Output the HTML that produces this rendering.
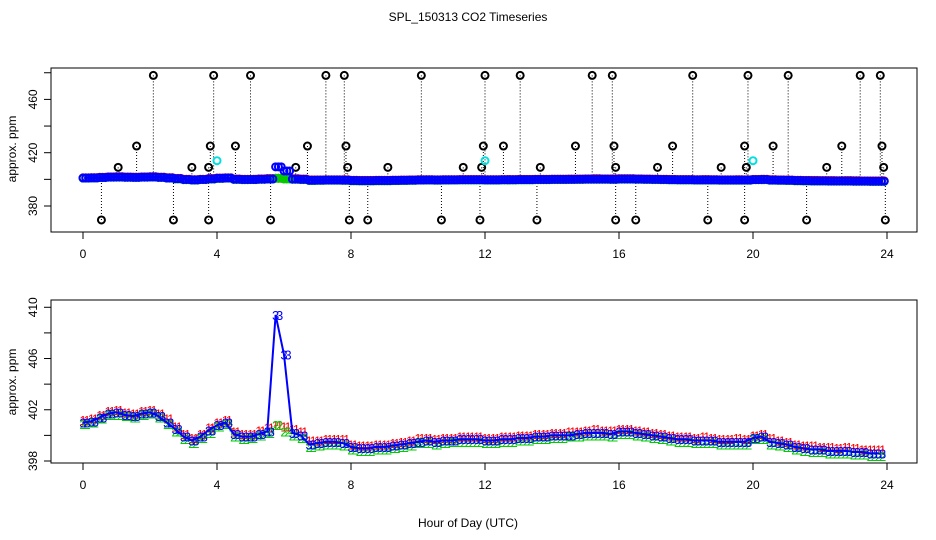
<!DOCTYPE html>
<html><head><meta charset="utf-8"><style>
body{margin:0;background:#fff}
svg{display:block;font-family:"Liberation Sans",sans-serif}
</style></head><body>
<svg id="c" width="936" height="540">
<text x="468" y="21" font-size="12" text-anchor="middle">SPL_150313  CO2 Timeseries</text>
<text x="468" y="527" font-size="12" text-anchor="middle">Hour of Day (UTC)</text>
<text transform="translate(16,149) rotate(-90)" font-size="12" text-anchor="middle">approx. ppm</text>
<text transform="translate(16,382) rotate(-90)" font-size="12" text-anchor="middle">approx. ppm</text>
<rect x="51" y="68" width="866" height="164" fill="none" stroke="#000"/>
<rect x="51" y="300" width="866" height="163" fill="none" stroke="#000"/>
<g id="top"></g><g id="bot"></g>
</svg>
<script>
const hours=[];for(let i=0;i<96;i++)hours.push(i*0.25);
const blue3=[401.0,401.1,401.4,401.7,401.8,401.6,401.5,401.7,401.8,401.5,401.0,400.5,399.9,399.6,399.9,400.4,
400.8,401.0,400.1,399.9,399.9,400.1,400.3,409.4,406.3,400.2,400.0,399.3,399.4,399.5,399.5,399.4,
399.1,399.0,399.0,399.1,399.1,399.2,399.3,399.4,399.5,399.6,399.5,399.6,399.6,399.7,399.7,399.7,
399.6,399.6,399.7,399.7,399.8,399.8,399.9,399.9,400.0,400.0,400.0,400.1,400.2,400.2,400.2,400.1,
400.3,400.3,400.2,400.1,400.0,399.9,399.8,399.7,399.7,399.6,399.6,399.6,399.5,399.5,399.5,399.5,
399.8,399.9,399.5,399.4,399.3,399.1,399.0,398.9,398.9,398.8,398.8,398.8,398.7,398.7,398.6,398.6];
const red1=[401.2,401.3,401.6,401.9,402.0,401.8,401.7,401.9,402.0,401.7,401.3,400.7,400.1,399.8,400.1,400.6,
401.0,401.2,400.3,400.1,400.1,400.4,400.6,400.8,400.7,400.5,400.3,399.6,399.6,399.7,399.7,399.7,
399.3,399.2,399.2,399.3,399.3,399.4,399.5,399.6,399.8,399.8,399.7,399.8,399.8,399.9,399.9,399.9,
399.8,399.8,399.9,399.9,400.0,400.0,400.1,400.1,400.2,400.2,400.3,400.3,400.4,400.5,400.4,400.4,
400.5,400.5,400.4,400.3,400.2,400.1,400.0,399.9,399.9,399.8,399.9,399.8,399.7,399.7,399.8,399.7,
400.0,400.1,399.8,399.6,399.5,399.3,399.2,399.2,399.1,399.1,399.0,399.1,399.0,398.9,398.9,398.9];
const green2=[400.9,401.0,401.3,401.6,401.6,401.5,401.4,401.6,401.7,401.4,400.9,400.3,399.7,399.4,399.8,400.2,
400.7,400.9,399.9,399.7,399.8,400.0,400.2,400.8,400.3,400.0,399.8,399.1,399.2,399.3,399.3,399.2,
398.9,398.8,398.8,398.9,398.9,399.0,399.1,399.2,399.4,399.4,399.3,399.4,399.5,399.5,399.5,399.5,
399.4,399.4,399.5,399.5,399.6,399.6,399.7,399.7,399.8,399.8,399.9,399.9,400.0,400.0,400.0,399.9,
400.1,400.1,400.0,399.9,399.8,399.7,399.6,399.5,399.5,399.4,399.4,399.4,399.3,399.3,399.3,399.3,
399.7,399.7,399.3,399.2,399.1,398.9,398.8,398.7,398.7,398.6,398.6,398.6,398.5,398.5,398.4,398.4];
const outHours=[2.1,3.9,5.0,7.25,7.8,10.1,12.0,13.05,15.2,15.8,18.2,19.85,21.05,23.2,23.8,
1.6,3.8,4.55,6.7,7.85,11.95,12.55,14.7,15.85,17.6,19.75,20.6,22.65,23.85,
1.05,3.25,3.75,6.35,7.9,9.1,11.35,11.9,13.65,15.9,17.15,19.05,19.8,22.2,23.9,
0.55,2.7,3.75,5.6,7.95,8.5,10.7,11.85,13.55,15.9,16.5,18.65,19.75,21.6,23.95];
const outVals=[478,478,478,478,478,478,478,478,478,478,478,478,478,478,478,
425,425,425,425,425,425,425,425,425,425,425,425,425,425,
409,409,409,409,409,409,409,409,409,409,409,409,409,409,409,
369.5,369.5,369.5,369.5,369.5,369.5,369.5,369.5,369.5,369.5,369.5,369.5,369.5,369.5,369.5];
const cyanHours=[4.0,12.0,20.0];
const cyanVals=[414,414,414];
const xTicks=[0,4,8,12,16,20,24];
const topYTicks=[380,400,420,440,460,480];
const botYTicks=[398,400,402,404,406,408,410];
const NS="http://www.w3.org/2000/svg";
const X=h=>83+h*33.5;
const YT=v=>206-(v-380)*1.3325;
const YB=v=>461-(v-398)*12.81;
function mk(p,tag,at){const e=document.createElementNS(NS,tag);for(const k in at)e.setAttribute(k,at[k]);p.appendChild(e);return e;}
const gTop=document.getElementById('top'),gBot=document.getElementById('bot');
[[gTop,YT,topYTicks,232,[380,420,460]],[gBot,YB,botYTicks,463,[398,402,406,410]]].forEach(([g,Y,ticks,yb,lab])=>{
 xTicks.forEach(t=>{
  const l=mk(g,'line',{x1:X(t),x2:X(t),y1:yb,y2:yb+7,stroke:'#000'});
  
  const tx=mk(g,'text',{x:X(t),y:yb+26,'font-size':12,'text-anchor':'middle'});tx.textContent=t;
  
 });
 ticks.forEach(t=>{
  const l=mk(g,'line',{x1:44,x2:51,y1:Y(t),y2:Y(t),stroke:'#000'});
  
  if(lab.includes(t)){const tx=mk(g,'text',{transform:`translate(37,${Y(t)}) rotate(-90)`,'font-size':12,'text-anchor':'middle'});tx.textContent=t;
  }
 });
});
outHours.forEach((h,i)=>{
 const l=mk(gTop,'line',{x1:X(h),x2:X(h),y1:YT(outVals[i]),y2:YT(400),stroke:'#000','stroke-dasharray':'1,2'});
 
});
outHours.forEach((h,i)=>{
 const c=mk(gTop,'circle',{cx:X(h),cy:YT(outVals[i]),r:3.5,fill:'none',stroke:'#000','stroke-width':2});
 
});
cyanHours.forEach((h,i)=>{
 const c=mk(gTop,'circle',{cx:X(h),cy:YT(cyanVals[i]),r:3.5,fill:'none',stroke:'#00e0e0','stroke-width':2});
 
});
[[red1,'#f00'],[green2,'#0c0'],[blue3,'#00f']].forEach(([s,col])=>{
 hours.forEach((h,i)=>{
  for(let k=0;k<3;k++){const c=mk(gTop,'circle',{cx:X(h)+k*2.8,cy:YT(s[i]),r:3.5,fill:'none',stroke:col,'stroke-width':2});
  }
 });
});
[[red1,'#f00','1'],[green2,'#0c0','2'],[blue3,'#00f','3']].forEach(([s,col,ch])=>{
 const p=mk(gBot,'polyline',{points:hours.map((h,i)=>X(h)+','+YB(s[i])).join(' '),fill:'none',stroke:col,'stroke-width':col=='#00f'?2:1,'stroke-dasharray':col=='#00f'?'none':'1,2'});
 
 hours.forEach((h,i)=>{
  for(let k=0;k<2;k++){const t=mk(gBot,'text',{x:X(h)+k*4,y:YB(s[i])+5,'font-size':13,fill:col,'text-anchor':'middle'});t.textContent=ch;
  }
 });
});
</script>
</body></html>
